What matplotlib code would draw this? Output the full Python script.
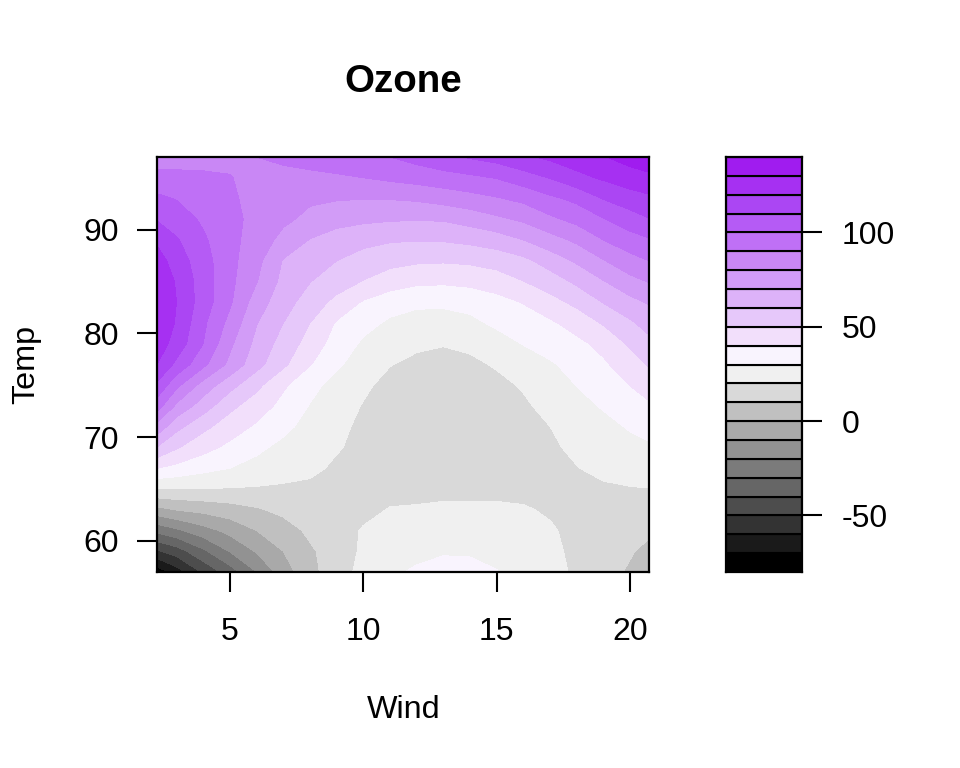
import matplotlib
matplotlib.use('Agg')
import matplotlib.pyplot as plt
import numpy as np

plt.rcParams['font.family'] = ['Liberation Sans', 'DejaVu Sans']

wind = [2.3, 3, 4, 5, 6, 7, 8, 9, 10, 11, 12, 13, 14, 15, 16, 17, 18, 19, 20, 20.7]
temp = [57, 59, 61, 63, 65, 67, 69, 71, 73, 75, 77, 79, 81, 83, 85, 87, 89, 91, 93, 95, 97]

# ozone, one row per temp (bottom to top)
ozone = [
    [-76, -65, -48.5, -35, -20, -5, 7, 15.5, 23, 29, 30.8, 31.8, 31.3, 30.2, 26.5, 23, 18.5, 14, 8.5, 4],
    [-51, -45, -32, -19.5, -9, 0, 8.5, 15, 21.5, 26.5, 28.5, 29.5, 29.5, 28.5, 26.5, 22.5, 17.5, 13.5, 11, 7],
    [-27, -22, -14, -7, 0, 5.5, 12, 16, 20.8, 24, 25.5, 26, 26, 25.5, 24, 21.2, 17, 13.5, 12.2, 12],
    [-3, 0.3, 2.8, 5.5, 8.8, 12.5, 15.5, 16.5, 17.5, 20.5, 21, 22, 22, 22, 21, 18.7, 17, 16, 16, 16],
    [19.8, 19.8, 19.7, 19.4, 19, 18.3, 18, 17, 16.5, 17, 17, 17, 17, 17, 17, 17.5, 18, 18.5, 19.4, 19.8],
    [40, 37, 33, 30, 27, 24.5, 22, 18.5, 16.5, 15.5, 15, 15, 15, 15.5, 16, 17.5, 19.7, 22.5, 24, 24.5],
    [59, 51, 43.5, 37.5, 32, 27.5, 24, 20.8, 17.5, 15.5, 14.5, 14, 14, 15, 16.5, 18.5, 22, 24.5, 27, 28.5],
    [76, 63, 52.5, 45, 38.5, 32.5, 26.5, 22.3, 18, 15.5, 14, 13, 13.5, 15, 17, 20, 23.5, 27, 31, 33.5],
    [94, 78, 65, 52.5, 45, 37, 29.5, 24, 19.5, 16, 14, 13, 13.5, 15.5, 18.5, 23, 26.8, 31, 35, 38.5],
    [107.5, 92.5, 76, 63.5, 52.5, 41.5, 33, 26.5, 21.5, 17.5, 15.5, 14.5, 15.5, 17.5, 21, 25.5, 30.2, 35, 40.2, 44.5],
    [119.5, 107.5, 92.5, 77.5, 63.5, 52, 40.5, 31.5, 25.5, 20.3, 18, 17, 18, 21, 24, 29, 33, 38.5, 45.5, 51],
    [125, 116, 100, 82, 67, 56, 46, 35.5, 28.5, 24.5, 21.5, 20.5, 22, 25.5, 30.5, 33.5, 37.5, 43, 51.5, 57],
    [128, 119, 102, 87, 70.5, 60, 50, 39, 33, 28.5, 26, 25.5, 27.5, 32, 35, 38.5, 44, 51, 58.5, 64],
    [129, 120, 105, 91.5, 75, 64, 55.5, 47, 39, 34, 32, 32, 33.5, 36.5, 40.5, 46.5, 52.5, 60.5, 67, 71],
    [128, 119, 105, 92.5, 80.5, 67, 60.3, 55, 49.5, 45, 42, 41.5, 42.5, 45, 49.8, 55, 62, 69.5, 77, 80.5],
    [124, 115.5, 104, 93, 83, 69.3, 65, 60, 56, 53, 51.5, 51, 51.8, 54, 57.5, 64.5, 71.5, 79.5, 86.5, 90],
    [118, 111, 101.5, 93, 85.5, 77, 69.5, 65.5, 62.8, 61, 60.5, 60.8, 62.5, 65, 70, 76, 82, 90, 96, 99],
    [109, 105, 98.5, 93, 87, 82, 77.5, 73.5, 72, 71, 70.6, 71, 74, 78, 81.8, 88, 93, 99.5, 105.5, 109.5],
    [102, 99.5, 95.5, 91.5, 87, 84, 81.5, 80.8, 80.3, 80.5, 81.5, 84, 86.5, 89.2, 92.5, 98, 102.5, 110.5, 115.5, 118],
    [93, 92.5, 91.5, 90.3, 87.8, 87, 87.5, 88.5, 90, 92, 94, 96, 98, 100.5, 105.5, 110.5, 117, 121.5, 125.5, 127.5],
    [85, 86, 87, 88.5, 90, 92, 94, 96, 98, 100, 103.5, 107.5, 111, 114, 118.5, 122, 126, 129.5, 134, 137],
]

levels = list(range(-80, 150, 10))
colors = ['#000000', '#1a1a1a', '#333333', '#4d4d4d', '#666666', '#7b7b7b', '#929292', '#a9a9a9',
          '#c0c0c0', '#d9d9d9', '#f0f0f0', '#f9f4fe', '#f2dffb', '#e6c8fa', '#ddb2f9', '#d29cf7',
          '#c987f5', '#bf70f6', '#b55bf5', '#ab46f3', '#a630f2', '#a01cef']

fig = plt.figure(figsize=(9.6, 7.68), dpi=100)
ax = fig.add_axes([157 / 960, 196 / 768, 492 / 960, 415 / 768])
cax = fig.add_axes([726 / 960, 196 / 768, 76 / 960, 415 / 768])

ax.contourf(wind, temp, np.array(ozone), levels=levels, colors=colors)
ax.set_xlim(2.27, 20.7)
ax.set_ylim(57, 97)
ax.set_xticks([5, 10, 15, 20])
ax.set_yticks([60, 70, 80, 90])
ax.tick_params(axis='x', length=14.4, width=1.5, labelsize=23, pad=18)
ax.tick_params(axis='y', length=14.4, width=1.5, labelsize=23, pad=13)
for s in ax.spines.values():
    s.set_linewidth(1.6)

fig.text(403 / 960, 1 - 81.5 / 768, 'Ozone', fontsize=27.7, fontweight='bold', ha='center', va='center')
fig.text(404 / 960, 1 - 709.5 / 768, 'Wind', fontsize=23.3, ha='center', va='center')
fig.text(26 / 960, 1 - 364 / 768, 'Temp', fontsize=23.3, rotation=90, ha='center', va='center')

# legend strip
cax.barh(levels[:-1], [1] * len(colors), height=10, align='edge', color=colors,
         edgecolor='black', linewidth=1.5)
cax.set_xlim(0, 1)
cax.set_ylim(-80, 140)
cax.set_xticks([])
cax.yaxis.tick_right()
cax.set_yticks([-50, 0, 50, 100])
cax.set_yticklabels(['-50', '0', '50', '100'])
cax.tick_params(axis='y', length=14.4, width=1.5, labelsize=23, pad=14)
for s in cax.spines.values():
    s.set_linewidth(1.6)

fig.savefig('out.png', dpi=100)
